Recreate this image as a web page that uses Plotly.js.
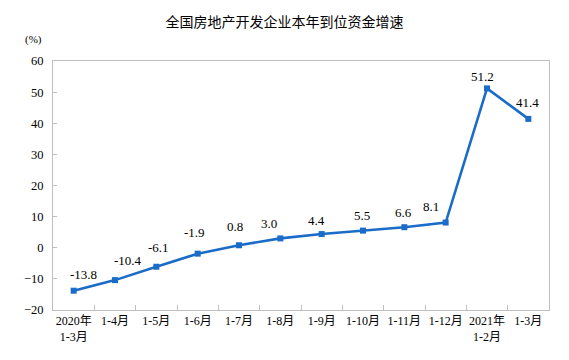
<!DOCTYPE html>
<html><head><meta charset="utf-8">
<script src="https://cdn.plot.ly/plotly-3.0.1.min.js"></script>
<style>html,body{margin:0;padding:0;background:#fff}#c{width:569px;height:360px}</style>
</head><body><div id="c"></div>
<script>
const categories = ["2020年<br>1-3月","1-4月","1-5月","1-6月","1-7月","1-8月","1-9月","1-10月","1-11月","1-12月","2021年<br>1-2月","1-3月"];
const values = [-13.8,-10.4,-6.1,-1.9,0.8,3.0,4.4,5.5,6.6,8.1,51.2,41.4];
const labels = values.map(v => v.toFixed(1));
const yTicks = [-20,-10,0,10,20,30,40,50,60];
// label offset style (pixels, per point)
const labelDx = [10,13,2,-3,-4,-11,-5,-1,-1,-15,-5,-1];
const labelDy = [16,20,19,21,19,15,14,15,15,16,12,16];

const font = "'Liberation Serif','Noto Sans CJK SC',serif";
const trace = {
  x: categories, y: values, type: 'scatter', mode: 'lines+markers',
  line: {color: '#1a6cc8', width: 2.6},
  marker: {symbol: 'square', size: 6, color: '#1a6cc8'},
  cliponaxis: false, hoverinfo: 'none'
};
const annotations = categories.map((c, i) => ({
  x: c, y: values[i], xref: 'x', yref: 'y', text: labels[i], showarrow: false,
  xanchor: 'center', yanchor: 'middle', xshift: labelDx[i], yshift: labelDy[i],
  font: {family: font, size: 13, color: '#000'}
}));
annotations.push({text: '(%)', xref: 'paper', yref: 'paper', x: -0.04, y: 1.085, showarrow: false,
                 xanchor: 'center', yanchor: 'middle', font: {family: font, size: 11, color: '#000'}});
const layout = {
  width: 569, height: 360,
  margin: {l: 53, r: 20, t: 61, b: 50},
  paper_bgcolor: '#fff', plot_bgcolor: '#fff',
  showlegend: false,
  title: {text: '全国房地产开发企业本年到位资金增速', x: 0.5, xanchor: 'center', y: 0.94, yanchor: 'middle',
          font: {family: "'Noto Sans CJK SC',sans-serif", size: 14, color: '#000'}},
  xaxis: {type: 'category', tickson: 'boundaries', ticks: 'inside', ticklen: 5, tickcolor: '#bfbfbf',
          showline: true, linecolor: '#bfbfbf', linewidth: 1, mirror: true, showgrid: false, tickangle: 0,
          tickfont: {family: font, size: 12, color: '#000'}, range: [-0.5, 11.5]},
  yaxis: {range: [-20, 60], tickvals: yTicks, ticks: 'inside', ticklen: 4, tickcolor: '#bfbfbf',
          showline: true, linecolor: '#bfbfbf', linewidth: 1, mirror: true, showgrid: false, zeroline: false,
          tickfont: {family: font, size: 12.5, color: '#000'}, ticklabelstandoff: 6},
  annotations: annotations
};
Plotly.newPlot('c', [trace], layout, {displayModeBar: false, staticPlot: true});
</script></body></html>
